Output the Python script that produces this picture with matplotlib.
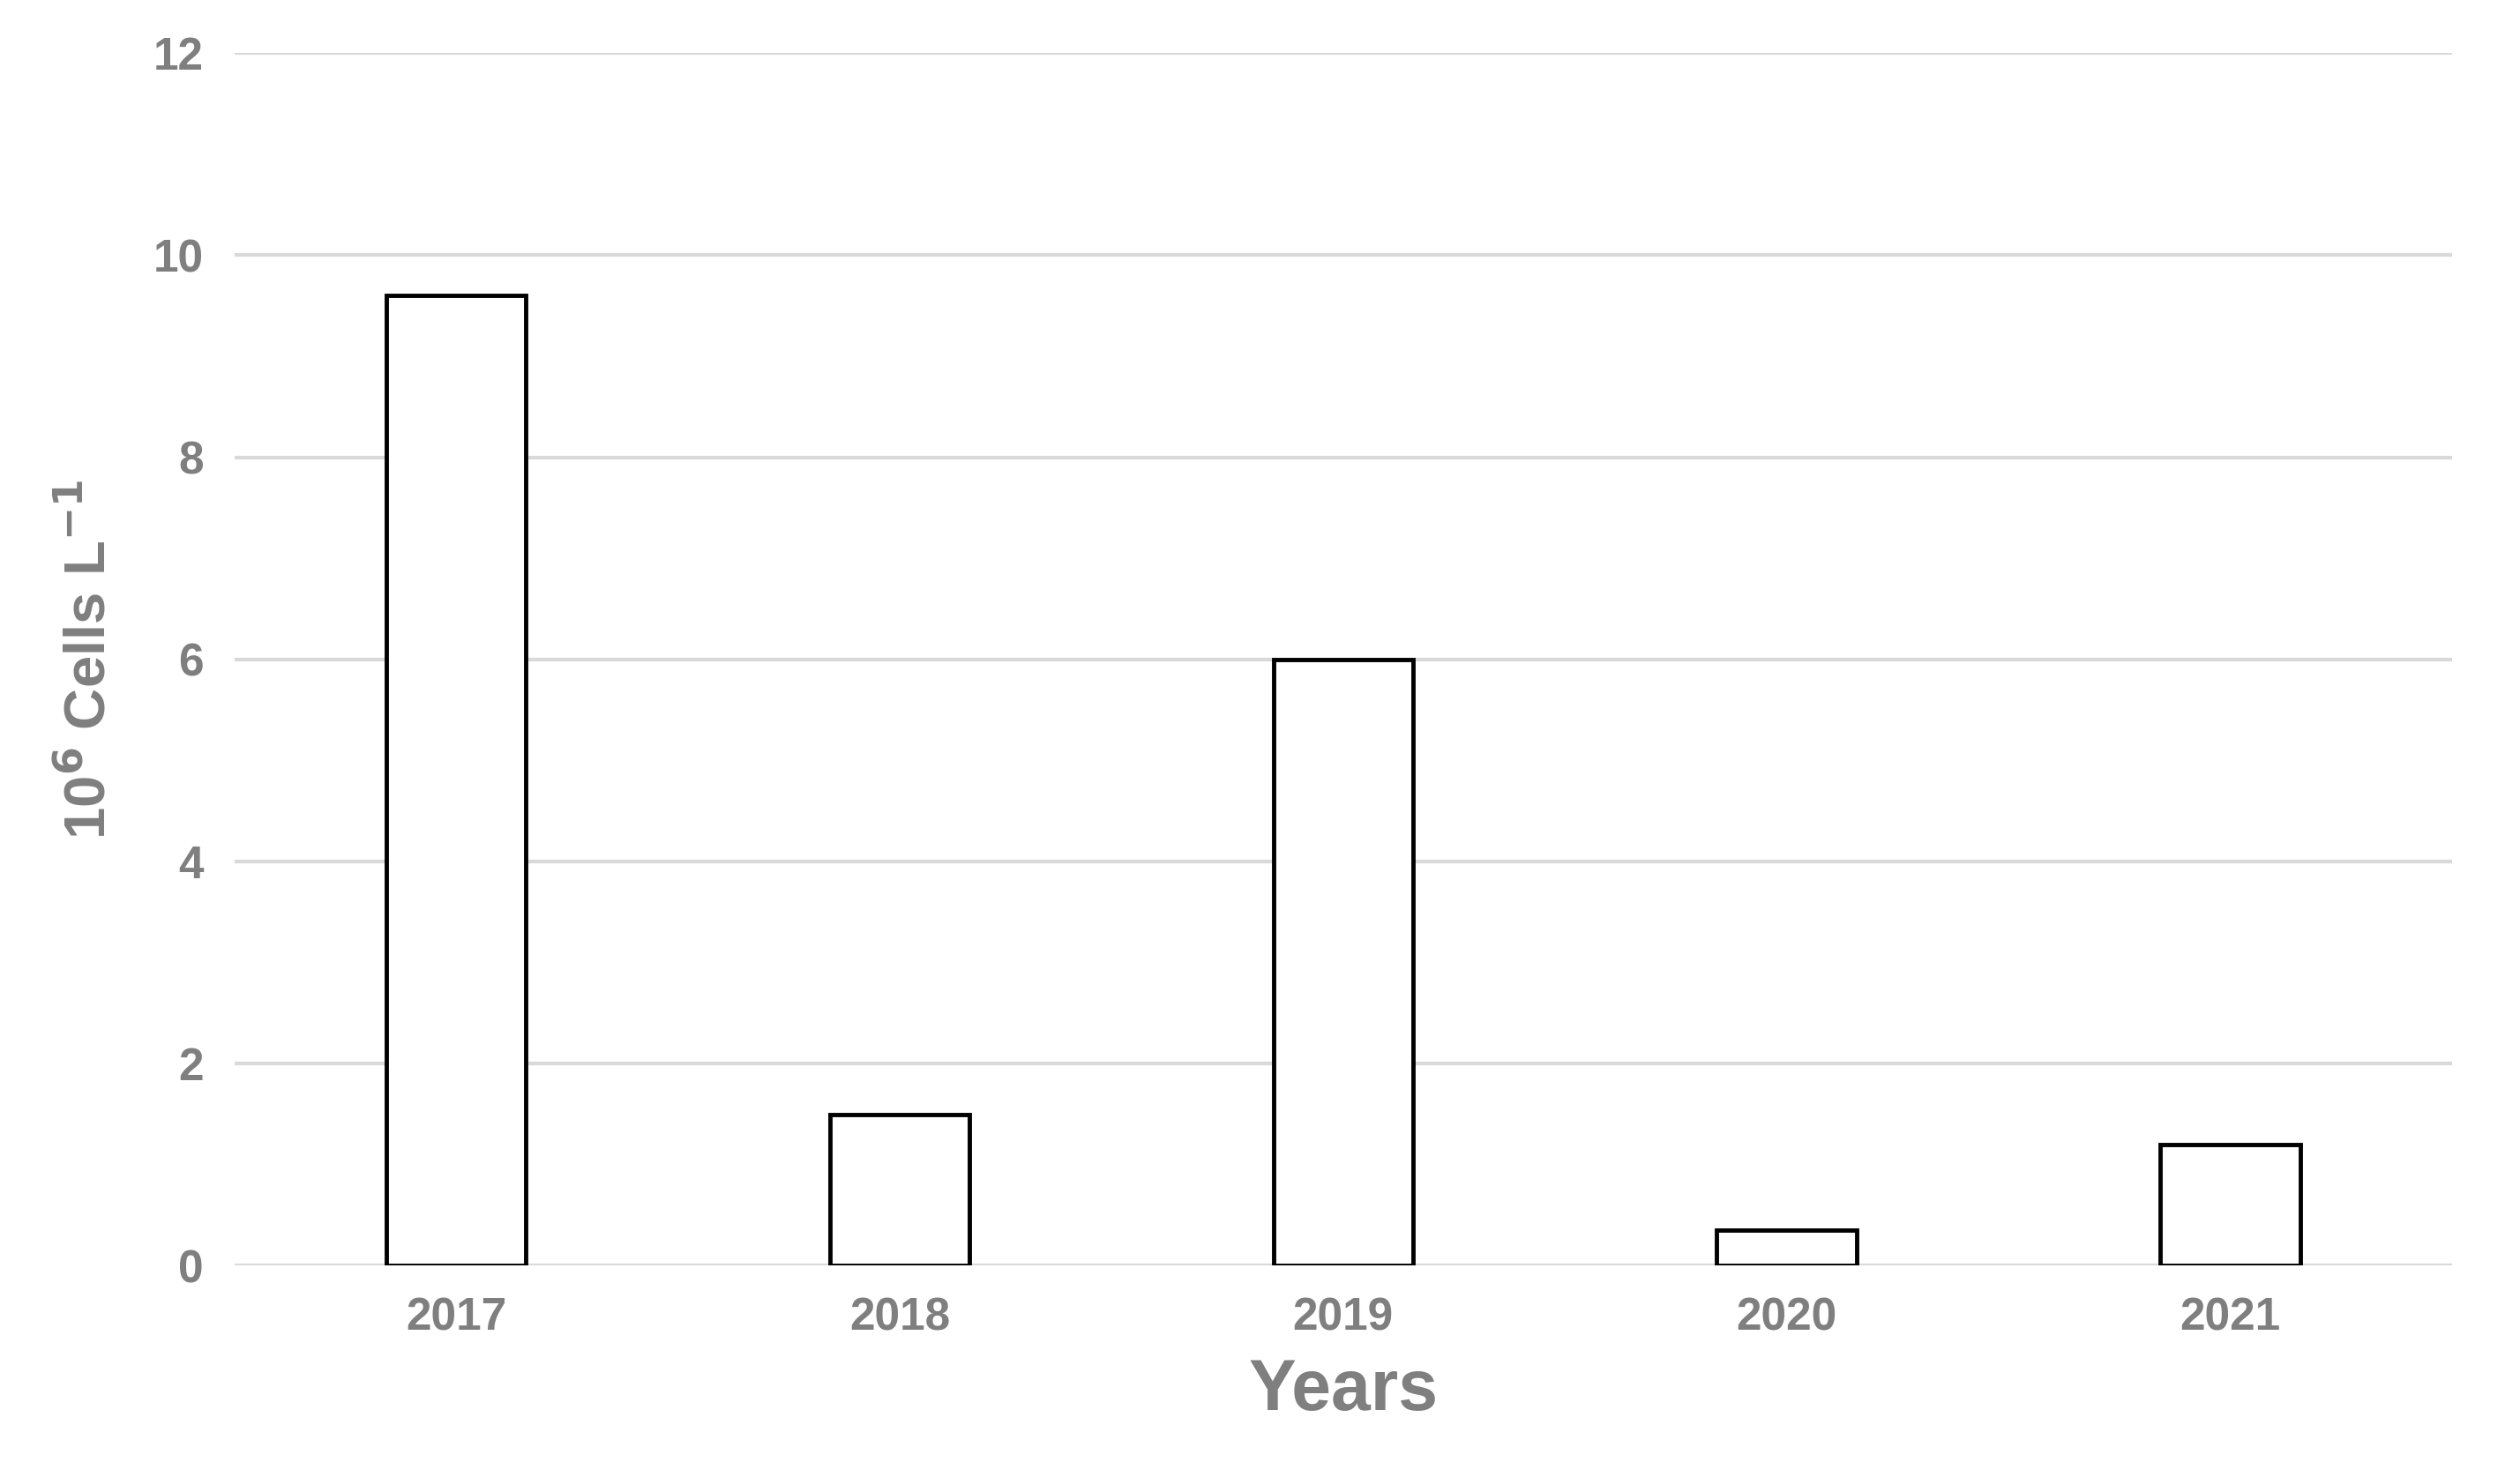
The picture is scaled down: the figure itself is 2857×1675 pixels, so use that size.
import matplotlib
matplotlib.use("Agg")
import matplotlib.pyplot as plt

years = ["2017", "2018", "2019", "2020", "2021"]
values = [9.6, 1.5, 6.0, 0.35, 1.2]
yticks = [0, 2, 4, 6, 8, 10, 12]

plt.rcParams['font.family'] = ['Liberation Sans', 'DejaVu Sans']
grey = '#7f7f7f'
fig = plt.figure(figsize=(28.57, 16.75), dpi=100)
ax = fig.add_axes([0.093, 0.143, 0.88, 0.821])
ax.bar(range(len(years)), values, width=0.315, color='white', edgecolor='black', linewidth=3.5, zorder=3)
ax.set_ylim(0, 12)
ax.set_xlim(-0.5, len(years) - 0.5)
ax.set_yticks(yticks)
ax.set_xticks(range(len(years)))
ax.set_xticklabels(years)
ax.yaxis.grid(True, color='#d9d9d9', linewidth=3)
ax.set_axisbelow(True)
for s in ax.spines.values():
    s.set_visible(False)
ax.tick_params(length=0, labelsize=37, labelcolor=grey, pad=25)
for t in ax.get_xticklabels() + ax.get_yticklabels():
    t.set_fontweight('bold')
ax.set_xlabel('Years', fontsize=58, color=grey, fontweight='bold', labelpad=15)
ax.set_ylabel('10$^{\\mathbf{6}}$ Cells L$^{\\mathbf{-1}}$', fontsize=47, color=grey, fontweight='bold', labelpad=30)
fig.savefig('out.png', dpi=100)
